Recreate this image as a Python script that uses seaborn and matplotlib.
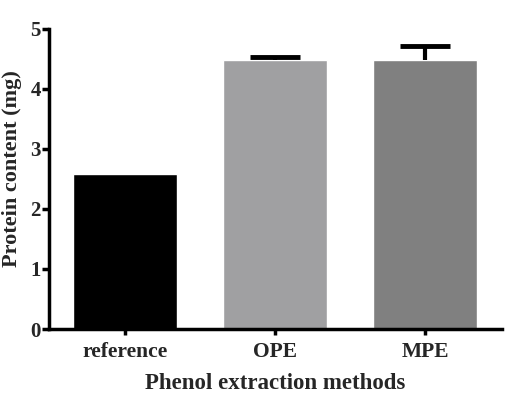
import matplotlib
matplotlib.use("Agg")
import matplotlib.pyplot as plt
import seaborn as sns
import pandas as pd

methods = ["reference", "OPE", "MPE"]
protein = [2.59, 4.48, 4.49]
err_up = [0.0, 0.06, 0.22]
colors = ["#000000", "#a0a0a2", "#808080"]
yticks = [0, 1, 2, 3, 4, 5]

sns.set_theme(style="ticks")
plt.rcParams["font.family"] = ["Liberation Serif", "DejaVu Serif"]
plt.rcParams["font.weight"] = "bold"

df = pd.DataFrame({"method": methods, "protein": protein})

fig = plt.figure(figsize=(5.08, 4.19), dpi=100)
ax = fig.add_axes([49 / 508, 1 - 329 / 419, (502 - 49) / 508, 300 / 419])

sns.barplot(data=df, x="method", y="protein", hue="method", palette=colors,
            width=0.69, errorbar=None, legend=False, ax=ax, saturation=1)

idx = [i for i, e in enumerate(err_up) if e > 0]
_, caps, _ = ax.errorbar(idx, [protein[i] for i in idx],
                         yerr=[[0] * len(idx), [err_up[i] for i in idx]],
                         fmt="none", ecolor="black", elinewidth=3,
                         capsize=18, capthick=3.5)
caps[0].set_visible(False)

ax.set_xlim(-0.507, 2.513)
ax.set_ylim(0, 5)
ax.set_yticks(yticks)
ax.set_yticklabels([str(t) for t in yticks], fontsize=15, fontweight="bold")
ax.set_xticks(range(len(methods)))
ax.set_xticklabels(methods, fontsize=15.5, fontweight="bold")
ax.set_ylabel("Protein content (mg)", fontsize=16, fontweight="bold")
ax.yaxis.set_label_coords(-0.06, 0.535)
ax.set_xlabel("Phenol extraction methods", fontsize=16.5, fontweight="bold", labelpad=8)

for s in ["top", "right"]:
    ax.spines[s].set_visible(False)
for s in ["left", "bottom"]:
    ax.spines[s].set_linewidth(2.5)
    ax.spines[s].set_color("black")
ax.tick_params(axis="y", width=2.5, length=5, color="black", pad=1)
ax.tick_params(axis="x", width=2.5, length=4, color="black", pad=5)

fig.savefig("out.png", dpi=100)
